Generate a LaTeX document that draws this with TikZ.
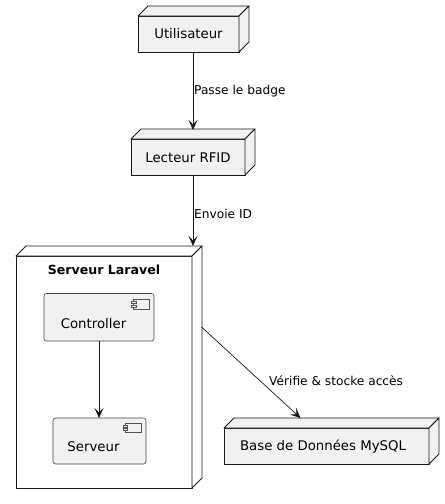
\documentclass[tikz,border=0pt]{standalone}
\usepackage{fontspec}
\setmainfont{DejaVu Sans}
\usetikzlibrary{arrows.meta}
\definecolor{nodefill}{HTML}{F1F1F1}
\definecolor{edge}{HTML}{181818}
\tikzset{
  face/.style={draw=edge, fill=nodefill, line width=0.9pt, line join=round},
  cface/.style={draw=edge, fill=white, line width=0.9pt, line join=round},
  nodetxt/.style={font=\fontsize{13.3}{15}\selectfont, text=black, inner sep=0pt},
  titletxt/.style={font=\fontsize{12.6}{15}\selectfont\bfseries, text=black, inner sep=0pt},
  lbl/.style={font=\fontsize{12.2}{14}\selectfont, text=black, inner sep=0pt, anchor=west},
  conn/.style={draw=edge, line width=0.9pt, -{Stealth[length=10pt,width=9pt,inset=4.5pt]}},
  comp/.style={draw=edge!80, fill=nodefill, rounded corners=2.5pt, line width=0.6pt},
  icon/.style={draw=edge!75, fill=nodefill, line width=0.6pt}
}
% 3D node: #1 style, x1,y1,x2,y2 front face, depth 10
\newcommand{\nodebox}[5]{%
  \path[#1] (#2,#3) rectangle (#4,#5);
  \path[#1] (#2,#3) -- ++(10,-10) -- (#4+10,#3-10) -- (#4,#3) -- cycle;
  \path[#1] (#4,#3) -- (#4+10,#3-10) -- (#4+10,#5-10) -- (#4,#5) -- cycle;
}
\newcommand{\compicon}[2]{% top-right body corner x, y
  \path[icon] (#1-16,#2) rectangle (#1,#2+9.5);
  \path[icon] (#1-18,#2+2) rectangle (#1-13.5,#2+4);
  \path[icon] (#1-18,#2+5.5) rectangle (#1-13.5,#2+7.5);
}
\begin{document}
\begin{tikzpicture}[x=1pt,y=-1pt]
\useasboundingbox (0,0) rectangle (445,504);

% Utilisateur
\nodebox{face}{138}{16}{239}{52}
\node[nodetxt] (user) at (188.5,34) {Utilisateur};
\coordinate (userB) at (193,52);

% Lecteur RFID
\nodebox{face}{131}{139}{245}{175}
\node[nodetxt] (rfid) at (188,157.5) {Lecteur RFID};
\coordinate (rfidT) at (193,130);
\coordinate (rfidB) at (193,175);

% Serveur Laravel
\nodebox{cface}{16}{256}{192}{488}
\node[titletxt] (laravel) at (104,269.5) {Serveur Laravel};
\coordinate (larT) at (193,246);
\coordinate (larR) at (201.5,327);

% Controller component
\path[comp] (44,293.5) rectangle (154,341);
\compicon{149.5}{299.5}
\node[nodetxt] (ctrl) at (93.5,324) {Controller};
\coordinate (ctrlB) at (99,341);

% Serveur component
\path[comp] (53,418) rectangle (146,464);
\compicon{141}{423}
\node[nodetxt] (srv) at (93.5,447) {Serveur};
\coordinate (srvT) at (99,418);

% Base de donnees
\nodebox{face}{224}{428}{429}{464}
\node[nodetxt] (db) at (323,447) {Base de Données MySQL};
\coordinate (dbT) at (300.5,418);

% connectors
\draw[conn] (userB) -- (rfidT);
\draw[conn] (rfidB) -- (larT);
\draw[conn] (ctrlB) -- (srvT);
\draw[conn, line width=0.7pt] (larR) -- (dbT);

% labels
\node[lbl] (l1) at (194,91) {Passe le badge};
\node[lbl] (l2) at (194,214) {Envoie ID};
\node[lbl] (l3) at (269,381) {Vérifie \& stocke accès};
\end{tikzpicture}
\end{document}
